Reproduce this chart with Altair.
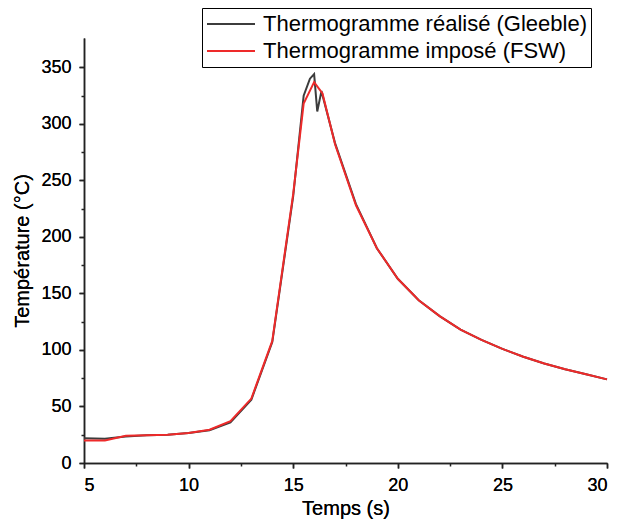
import altair as alt
import pandas as pd

# Measured curve (Gleeble)
t_gleeble = [5, 6, 7, 8, 9, 10, 11, 12, 13, 14, 15, 15.5, 15.8, 16.0, 16.15, 16.35,
             17, 18, 19, 20, 21, 22, 23, 24, 25, 26, 27, 28, 29, 30]
T_gleeble = [22, 21.5, 23.5, 24.5, 25, 26.5, 29, 36, 56, 107, 236, 325, 340, 344, 311, 329,
             283, 229, 190, 163, 144, 130, 118, 109, 101, 94, 88, 83, 78.5, 74]

# Imposed curve (FSW)
t_fsw = [5, 6, 7, 8, 9, 10, 11, 12, 13, 14, 15, 15.5, 16, 16.4,
         17, 18, 19, 20, 21, 22, 23, 24, 25, 26, 27, 28, 29, 30]
T_fsw = [20, 20, 24, 24.5, 25, 26.5, 29.5, 37, 57, 108, 238, 318, 337, 327,
         282, 228, 190, 163, 144, 130, 118, 109, 101, 94, 88, 83, 78.5, 74]

series_names = ["Thermogramme réalisé (Gleeble)", "Thermogramme imposé (FSW)"]
series_colors = ["#3c3c3c", "#ee2a2a"]

x_major = [5, 10, 15, 20, 25, 30]
x_minor = [7.5, 12.5, 17.5, 22.5, 27.5]
y_major = [0, 50, 100, 150, 200, 250, 300, 350]
y_minor = [25, 75, 125, 175, 225, 275, 325]

df_g = pd.DataFrame({"t": t_gleeble, "T": T_gleeble, "s": series_names[0]})
df_f = pd.DataFrame({"t": t_fsw, "T": T_fsw, "s": series_names[1]})

FONT = "Liberation Sans"
xscale = alt.Scale(domain=[5, 30], nice=False, zero=False)
yscale = alt.Scale(domain=[0, 376], nice=False, zero=False)
cscale = alt.Scale(domain=series_names, range=series_colors)

common_axis = dict(grid=False, domainColor="#222222", domainWidth=1.5,
                   tickColor="#222222", tickWidth=1.5, labelColor="black",
                   labelFont=FONT, titleFont=FONT, titleColor="black",
                   titleFontWeight="normal")

x_axis = alt.Axis(values=x_major, tickSize=5, labelFontSize=18, labelPadding=8,
                  title="Temps (s)", titleFontSize=20, titlePadding=4,
                  orient="bottom", format="d", **common_axis)
y_axis = alt.Axis(values=y_major, tickSize=5, labelFontSize=18, labelPadding=8,
                  title="Température (°C)", titleFontSize=20, titlePadding=8,
                  orient="left", format="d", **common_axis)

legend = alt.Legend(title=None, orient="none", legendX=118, legendY=-30,
                    direction="vertical", symbolType="stroke", symbolStrokeWidth=2,
                    symbolSize=2304, clipHeight=24, labelFont=FONT, labelFontSize=22,
                    labelColor="black", strokeColor="black", padding=4,
                    rowPadding=3, labelOffset=7, labelLimit=500,
                    fillColor="white")

gleeble = alt.Chart(df_g).mark_line(strokeWidth=2).encode(
    x=alt.X("t:Q", scale=xscale, axis=x_axis),
    y=alt.Y("T:Q", scale=yscale, axis=y_axis),
    color=alt.Color("s:N", scale=cscale, legend=legend),
)

fsw = alt.Chart(df_f).mark_line(strokeWidth=2).encode(
    x=alt.X("t:Q", scale=xscale, axis=x_axis),
    y=alt.Y("T:Q", scale=yscale, axis=y_axis),
    color=alt.Color("s:N", scale=cscale, legend=legend),
)

# minor ticks via extra axes without labels
minor_axis_x = alt.Axis(values=x_minor, tickSize=3, labels=False, title=None,
                        domain=False, orient="bottom", grid=False,
                        tickColor="#222222", tickWidth=1.5)
minor_axis_y = alt.Axis(values=y_minor, tickSize=3, labels=False, title=None,
                        domain=False, orient="left", grid=False,
                        tickColor="#222222", tickWidth=1.5)
minor = alt.Chart(df_f).mark_line(opacity=0).encode(
    x=alt.X("t:Q", scale=xscale, axis=minor_axis_x),
    y=alt.Y("T:Q", scale=yscale, axis=minor_axis_y),
)

chart = alt.layer(minor, gleeble, fsw).resolve_axis(
    x="independent", y="independent"
).properties(
    width=523, height=425,
    autosize=alt.AutoSizeParams(type="none"),
    padding={"left": 76, "top": 30, "right": 3, "bottom": 57},
).configure_view(stroke=None)

chart.save("out.html", embed_options={"renderer": "svg", "actions": False})
